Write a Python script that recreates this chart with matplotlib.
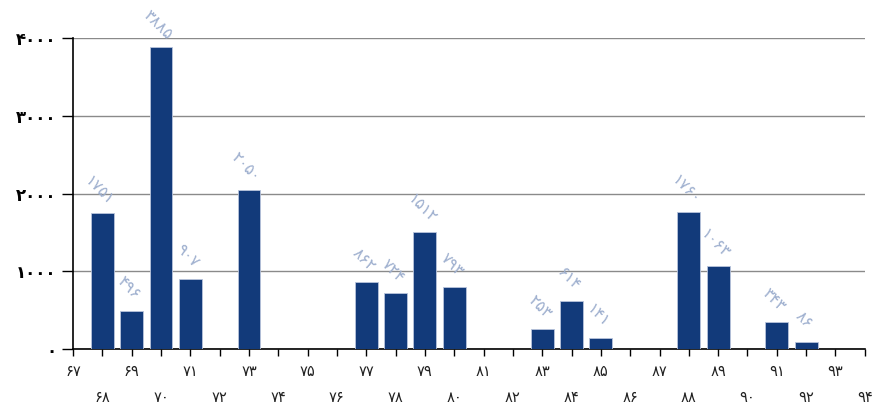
import matplotlib
matplotlib.use("Agg")
import matplotlib.pyplot as plt
import numpy as np

# سال‌ها (محور افقی) و مقادیر
years = list(range(67, 95))
bar_years = [68, 69, 70, 71, 73, 77, 78, 79, 80, 83, 84, 85, 88, 89, 91, 92]
values = [1751, 496, 3885, 907, 2050, 862, 724, 1512, 793, 253, 614, 141, 1760, 1063, 343, 86]
y_ticks = [0, 1000, 2000, 3000, 4000]

FA = str.maketrans("0123456789", "۰۱۲۳۴۵۶۷۸۹")


def fa(n):
    return str(n).translate(FA)


plt.rcParams['font.family'] = ['DejaVu Sans']

fig = plt.figure(figsize=(8.73, 4.05), dpi=100)
ax = fig.add_axes([0.0836, 0.138, 0.907, 0.768])

x = [years.index(y) for y in bar_years]
ax.bar(x, values, width=0.78, color='#123a7a', edgecolor='#b8c4dc', linewidth=0.6, zorder=3)

for xi, v in zip(x, values):
    ax.annotate(fa(v), (xi, v), xytext=(-2, 16), textcoords='offset points',
                ha='center', va='center', rotation=-45, rotation_mode='anchor',
                fontsize=11.5, color='#9fb0cf', zorder=4)

ax.set_xlim(0, len(years) - 1)
ax.set_ylim(0, 4000)
ax.set_yticks(y_ticks)
ax.set_yticklabels([fa(t) for t in y_ticks], fontsize=12, fontweight='bold')
ax.yaxis.grid(True, color='#8a8a8a', linewidth=1.0, zorder=0)

ax.set_xticks(range(len(years)))
labels = [fa(y) if i % 2 == 0 else '\n\n' + fa(y) for i, y in enumerate(years)]
ax.set_xticklabels(labels, fontsize=10.5, color='#222222', linespacing=0.8)

ax.tick_params(axis='y', length=8, width=1, direction='out', pad=4)
ax.tick_params(axis='x', length=5, width=1, direction='out', pad=6)

for s in ['top', 'right']:
    ax.spines[s].set_visible(False)
ax.spines['left'].set_color('black')
ax.spines['bottom'].set_color('black')
ax.spines['left'].set_linewidth(1.2)
ax.spines['bottom'].set_linewidth(1.2)

fig.savefig('out.png', dpi=100)
